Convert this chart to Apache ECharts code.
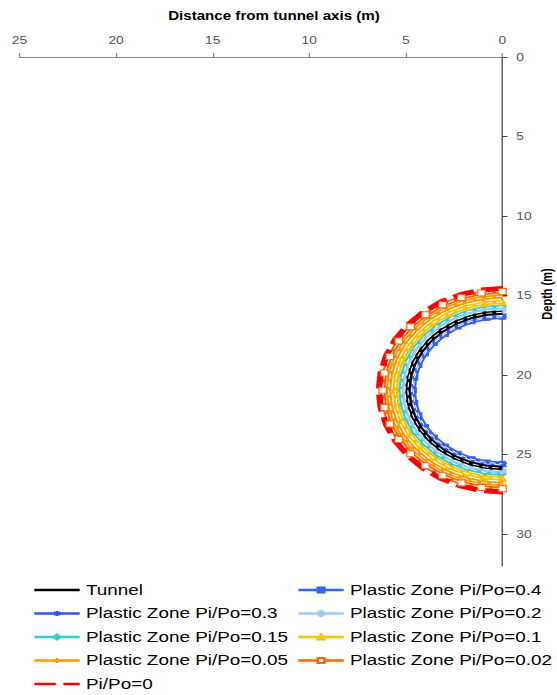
<!DOCTYPE html>
<html>
<head>
<meta charset="utf-8">
<title>Plastic zone around tunnel</title>
<script src="https://cdn.jsdelivr.net/npm/echarts@6/dist/echarts.min.js"></script>
<style>
  html, body { margin: 0; padding: 0; background: #fff; overflow: hidden; }
  /* the chart is laid out narrow and widened horizontally */
  #stage { width: 442px; height: 695px; transform: scaleX(1.2602); transform-origin: 0 0; }
</style>
</head>
<body>
<div id="stage"></div>
<script>
// Axis tick labels
const distanceTicks = [0, 5, 10, 15, 20, 25];
const depthTicks = [0, 5, 10, 15, 20, 25, 30];

// Outlines as [distance from tunnel axis (m), depth (m)]
const tunnel = [[0,16.05],[0.85,16.12],[1.68,16.35],[2.45,16.71],[3.15,17.2],[3.75,17.8],[4.24,18.5],[4.6,19.27],[4.83,20.1],[4.9,20.95],[4.83,21.8],[4.6,22.63],[4.24,23.4],[3.75,24.1],[3.15,24.7],[2.45,25.19],[1.68,25.55],[0.85,25.78],[0,25.85]];
const plastic04 = [[0,16.33],[0.8,16.4],[1.58,16.61],[2.31,16.95],[2.97,17.41],[3.54,17.98],[4,18.64],[4.34,19.37],[4.55,20.15],[4.62,20.95],[4.55,21.75],[4.34,22.53],[4,23.26],[3.54,23.92],[2.97,24.49],[2.31,24.95],[1.58,25.29],[0.8,25.5],[0,25.57]];
const plastic03 = [[0,16.25],[0.82,16.32],[1.61,16.53],[2.35,16.88],[3.02,17.35],[3.6,17.93],[4.07,18.6],[4.42,19.34],[4.63,20.13],[4.7,20.95],[4.63,21.77],[4.42,22.56],[4.07,23.3],[3.6,23.97],[3.02,24.55],[2.35,25.02],[1.61,25.37],[0.82,25.58],[0,25.65]];
const plastic02 = [[0,15.9],[0.88,15.98],[1.73,16.2],[2.53,16.58],[3.25,17.08],[3.87,17.7],[4.37,18.42],[4.75,19.22],[4.97,20.07],[5.05,20.95],[4.97,21.83],[4.75,22.68],[4.37,23.48],[3.87,24.2],[3.25,24.82],[2.53,25.32],[1.73,25.7],[0.88,25.92],[0,26]];
const plastic015 = [[0,15.7],[0.91,15.78],[1.8,16.02],[2.63,16.4],[3.37,16.93],[4.02,17.58],[4.55,18.32],[4.93,19.15],[5.17,20.04],[5.25,20.95],[5.17,21.86],[4.93,22.75],[4.55,23.58],[4.02,24.32],[3.37,24.97],[2.63,25.5],[1.8,25.88],[0.91,26.12],[0,26.2]];
const plastic01 = [[0,15.4],[0.96,15.48],[1.9,15.73],[2.78,16.14],[3.57,16.7],[4.25,17.38],[4.81,18.17],[5.22,19.05],[5.47,19.99],[5.55,20.95],[5.47,21.91],[5.22,22.85],[4.81,23.73],[4.25,24.52],[3.57,25.2],[2.78,25.76],[1.9,26.17],[0.96,26.42],[0,26.5]];
const plastic005 = [[0,15.05],[1.02,15.14],[2.02,15.41],[2.95,15.84],[3.79,16.43],[4.52,17.16],[5.11,18],[5.54,18.93],[5.81,19.93],[5.9,20.95],[5.81,21.97],[5.54,22.97],[5.11,23.9],[4.52,24.74],[3.79,25.47],[2.95,26.06],[2.02,26.49],[1.02,26.76],[0,26.85]];
const plastic002 = [[0,14.75],[1.08,14.84],[2.12,15.12],[3.1,15.58],[3.99,16.2],[4.75,16.96],[5.37,17.85],[5.83,18.83],[6.11,19.87],[6.2,20.95],[6.11,22.03],[5.83,23.07],[5.37,24.05],[4.75,24.94],[3.99,25.7],[3.1,26.32],[2.12,26.78],[1.08,27.06],[0,27.15]];
const plastic0 = [[0,14.55],[1.11,14.65],[2.19,14.94],[3.2,15.41],[4.11,16.05],[4.9,16.84],[5.54,17.75],[6.01,18.76],[6.3,19.84],[6.4,20.95],[6.3,22.06],[6.01,23.14],[5.54,24.15],[4.9,25.06],[4.11,25.85],[3.2,26.49],[2.19,26.96],[1.11,27.25],[0,27.35]];

const FONT = '"Liberation Sans", Arial, sans-serif';
const ASTERISK = 'path://M5,0L5,10M0.7,2.5L9.3,7.5M0.7,7.5L9.3,2.5';
const PLUS = 'path://M5,0L5,10M0,5L10,5';

// name, data, line colour, symbol, symbol size, symbol fill, striped centre, stacking
const curves = [
  { name: 'Tunnel', data: tunnel, color: '#000000', symbol: 'none', size: 0, fill: '#000000', stripe: true, z: 2.5 },
  { name: 'Plastic Zone Pi/Po=0.4', data: plastic04, color: '#3366FF', symbol: 'rect', size: 5, fill: '#3366FF', stripe: true, z: 2.1 },
  { name: 'Plastic Zone Pi/Po=0.3', data: plastic03, color: '#3355F5', symbol: ASTERISK, size: 7, fill: 'none', stripe: true, z: 2.2 },
  { name: 'Plastic Zone Pi/Po=0.2', data: plastic02, color: '#99CCFF', symbol: 'circle', size: 6, fill: '#99CCFF', stripe: true, z: 2.3 },
  { name: 'Plastic Zone Pi/Po=0.15', data: plastic015, color: '#33CCCC', symbol: 'diamond', size: 6, fill: '#33CCCC', stripe: true, z: 2.2 },
  { name: 'Plastic Zone Pi/Po=0.1', data: plastic01, color: '#FFC000', symbol: 'triangle', size: 6, fill: '#FFC000', stripe: true, z: 2.2 },
  { name: 'Plastic Zone Pi/Po=0.05', data: plastic005, color: '#FF9900', symbol: PLUS, size: 7, fill: 'none', stripe: true, z: 2.2 },
  { name: 'Plastic Zone Pi/Po=0.02', data: plastic002, color: '#FF6600', symbol: 'rect', size: 6, fill: '#FFFFFF', stripe: true, z: 2.2 },
  { name: 'Pi/Po=0', data: plastic0, color: '#FF0000', symbol: 'none', size: 0, fill: '#FF0000', stripe: false, dash: [17, 6], z: 2.2 }
];

const series = [];
curves.forEach((c) => {
  series.push({
    name: c.name,
    type: 'line',
    data: c.data,
    z: c.z,
    symbol: c.symbol,
    symbolSize: c.size,
    showSymbol: c.symbol !== 'none',
    itemStyle: { color: c.fill, borderColor: c.color, borderWidth: 1 },
    lineStyle: { color: c.color, width: c.dash ? 5 : 4.3, type: c.dash || 'solid' }
  });
  if (c.stripe) {
    series.push({
      type: 'line',
      data: c.data,
      z: 3,
      silent: true,
      symbol: 'none',
      lineStyle: { color: '#FFFFFF', width: 0.9, type: [5, 3] }
    });
  }
});

// legend entries; lines without markers show the line alone
function legendItems(names) {
  return names.map(n => {
    const c = curves.find(k => k.name === n);
    return c.symbol === 'none' ? { name: n, itemStyle: { opacity: 0 } } : { name: n };
  });
}

const legendBase = {
  orient: 'vertical',
  top: 582.5,
  height: 112,
  padding: 0,
  itemWidth: 36,
  itemHeight: 6.5,
  itemGap: 8.5,
  textStyle: { fontFamily: FONT, fontSize: 15, lineHeight: 15, color: '#000' },
  lineStyle: { width: 2.5 },
  selectedMode: false
};

const chart = echarts.init(document.getElementById('stage'), null, { renderer: 'svg', width: 442, height: 695 });
chart.setOption({
  animation: false,
  backgroundColor: '#ffffff',
  grid: { left: 15.5, right: 43.3, top: 57, bottom: 129 },
  xAxis: {
    type: 'value',
    position: 'top',
    inverse: true,
    min: 0,
    max: 25,
    interval: 5,
    axisLine: { show: true, lineStyle: { color: '#888888', width: 1 } },
    axisTick: { show: true, length: 4, lineStyle: { color: '#888888' }, customValues: distanceTicks },
    axisLabel: { margin: 11, fontFamily: FONT, fontSize: 11, color: '#555555', customValues: distanceTicks },
    splitLine: { show: false }
  },
  yAxis: {
    type: 'value',
    position: 'right',
    inverse: true,
    min: 0,
    max: 32,
    interval: 5,
    axisLine: { show: true, lineStyle: { color: '#444444', width: 1 } },
    axisTick: { show: true, length: 4, lineStyle: { color: '#444444' }, customValues: depthTicks },
    axisLabel: { margin: 11, fontFamily: FONT, fontSize: 11, color: '#555555', customValues: depthTicks },
    splitLine: { show: false }
  },
  legend: [
    Object.assign({}, legendBase, { left: 26, data: legendItems(['Tunnel', 'Plastic Zone Pi/Po=0.3', 'Plastic Zone Pi/Po=0.15', 'Plastic Zone Pi/Po=0.05', 'Pi/Po=0']) }),
    Object.assign({}, legendBase, { left: 235.5, data: legendItems(['Plastic Zone Pi/Po=0.4', 'Plastic Zone Pi/Po=0.2', 'Plastic Zone Pi/Po=0.1', 'Plastic Zone Pi/Po=0.02']) })
  ],
  graphic: [
    {
      type: 'text', x: 217.4, y: 16.5,
      style: { text: 'Distance from tunnel axis (m)', font: 'bold 12px ' + FONT, fill: '#000', align: 'center', verticalAlign: 'middle' }
    },
    {
      type: 'text', x: 434.9, y: 294, rotation: Math.PI / 2,
      style: { text: 'Depth (m)', font: 'bold 11px ' + FONT, fill: '#000', align: 'center', verticalAlign: 'middle' }
    }
  ],
  series: series
});
</script>
</body>
</html>
